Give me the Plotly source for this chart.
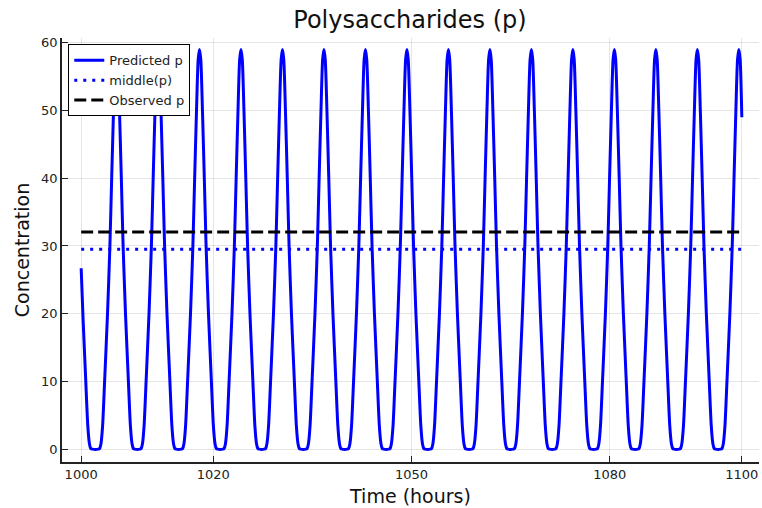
import plotly.graph_objects as go

# ---- data ----
# start of the curve (tail of a peak before t=1000)
start_t = [1000.0, 1000.3, 1000.7, 1001.0, 1001.25, 1001.45, 1001.7]
start_p = [26.7, 19.0, 10.0, 3.5, 0.8, 0.1, 0.0]

# peak times of each oscillation (hours)
peak_times = [1005.35, 1011.63, 1017.91, 1024.19, 1030.47, 1036.75, 1043.03, 1049.31,
              1055.59, 1061.87, 1068.15, 1074.43, 1080.71, 1086.99, 1093.27, 1099.55]
# shape of one pulse: time offset from the peak -> concentration
pulse_offsets = [-2.75, -2.55, -2.35, -2.1, -1.8, -1.36, -1.0, -0.73, -0.45, -0.2, 0.0,
                 0.2, 0.45, 0.73, 1.0, 1.36, 1.8, 2.1, 2.35, 2.55, 2.75]
pulse_values = [0.0, 0.1, 0.8, 3.5, 10.0, 20.0, 30.0, 40.0, 50.0, 57.5, 59.0,
                57.5, 50.0, 40.0, 30.0, 20.0, 10.0, 3.5, 0.8, 0.1, 0.0]
end_t = 1100.0
end_p = 49.0

middle_p = 29.5
observed_p = 32.05
x_ticks = [1000, 1020, 1050, 1080, 1100]
y_ticks = [0, 10, 20, 30, 40, 50, 60]

# ---- assemble the predicted series ----
t_pred = list(start_t)
p_pred = list(start_p)
for tp in peak_times:
    for off, val in zip(pulse_offsets, pulse_values):
        t = tp + off
        if t < end_t and t > t_pred[-1]:
            t_pred.append(t)
            p_pred.append(val)
t_pred.append(end_t)
p_pred.append(end_p)

font_family = "DejaVu Sans, Liberation Sans, sans-serif"

fig = go.Figure()
fig.add_trace(go.Scatter(x=t_pred, y=p_pred, mode="lines", name="Predicted p",
                         line=dict(color="#0000ff", width=3, shape="spline", smoothing=0.6)))
fig.add_trace(go.Scatter(x=[start_t[0], end_t], y=[middle_p, middle_p], mode="lines",
                         name="middle(p)",
                         line=dict(color="#0000ff", width=3, dash="3px,6px")))
fig.add_trace(go.Scatter(x=[start_t[0], end_t], y=[observed_p, observed_p], mode="lines",
                         name="Observed p",
                         line=dict(color="#000000", width=3, dash="12px,5px")))

fig.update_layout(
    width=762, height=508,
    margin=dict(l=62, r=3, t=38, b=46),
    paper_bgcolor="white", plot_bgcolor="white",
    font=dict(family=font_family, color="#222222", size=13),
    title=dict(text="Polysaccharides (p)", x=0.538, xanchor="center",
               y=0.962, yanchor="middle", yref="container",
               font=dict(size=24, color="#111111")),
    showlegend=True,
    legend=dict(x=0.009, y=0.985, xanchor="left", yanchor="top",
                bgcolor="white", bordercolor="black", borderwidth=1,
                font=dict(size=13, color="#222222"),
                tracegroupgap=0, itemwidth=30),
    xaxis=dict(range=[997.1, 1102.6], tickvals=x_ticks, ticktext=[str(v) for v in x_ticks],
               showgrid=True, gridcolor="rgba(0,0,0,0.1)", gridwidth=1,
               zeroline=False, showline=True, linecolor="#222222", linewidth=1.5,
               ticks="inside", ticklen=6, tickcolor="#222222",
               tickfont=dict(size=13),
               title=dict(text="Time (hours)", font=dict(size=19, color="#111111"), standoff=8)),
    yaxis=dict(range=[-1.9, 60.7], tickvals=y_ticks,
               showgrid=True, gridcolor="rgba(0,0,0,0.1)", gridwidth=1,
               zeroline=False, showline=True, linecolor="#222222", linewidth=1.5,
               ticks="inside", ticklen=6, tickcolor="#222222",
               tickfont=dict(size=13),
               title=dict(text="Concentration", font=dict(size=19, color="#111111"), standoff=6)),
)

fig.write_html("out.html")
